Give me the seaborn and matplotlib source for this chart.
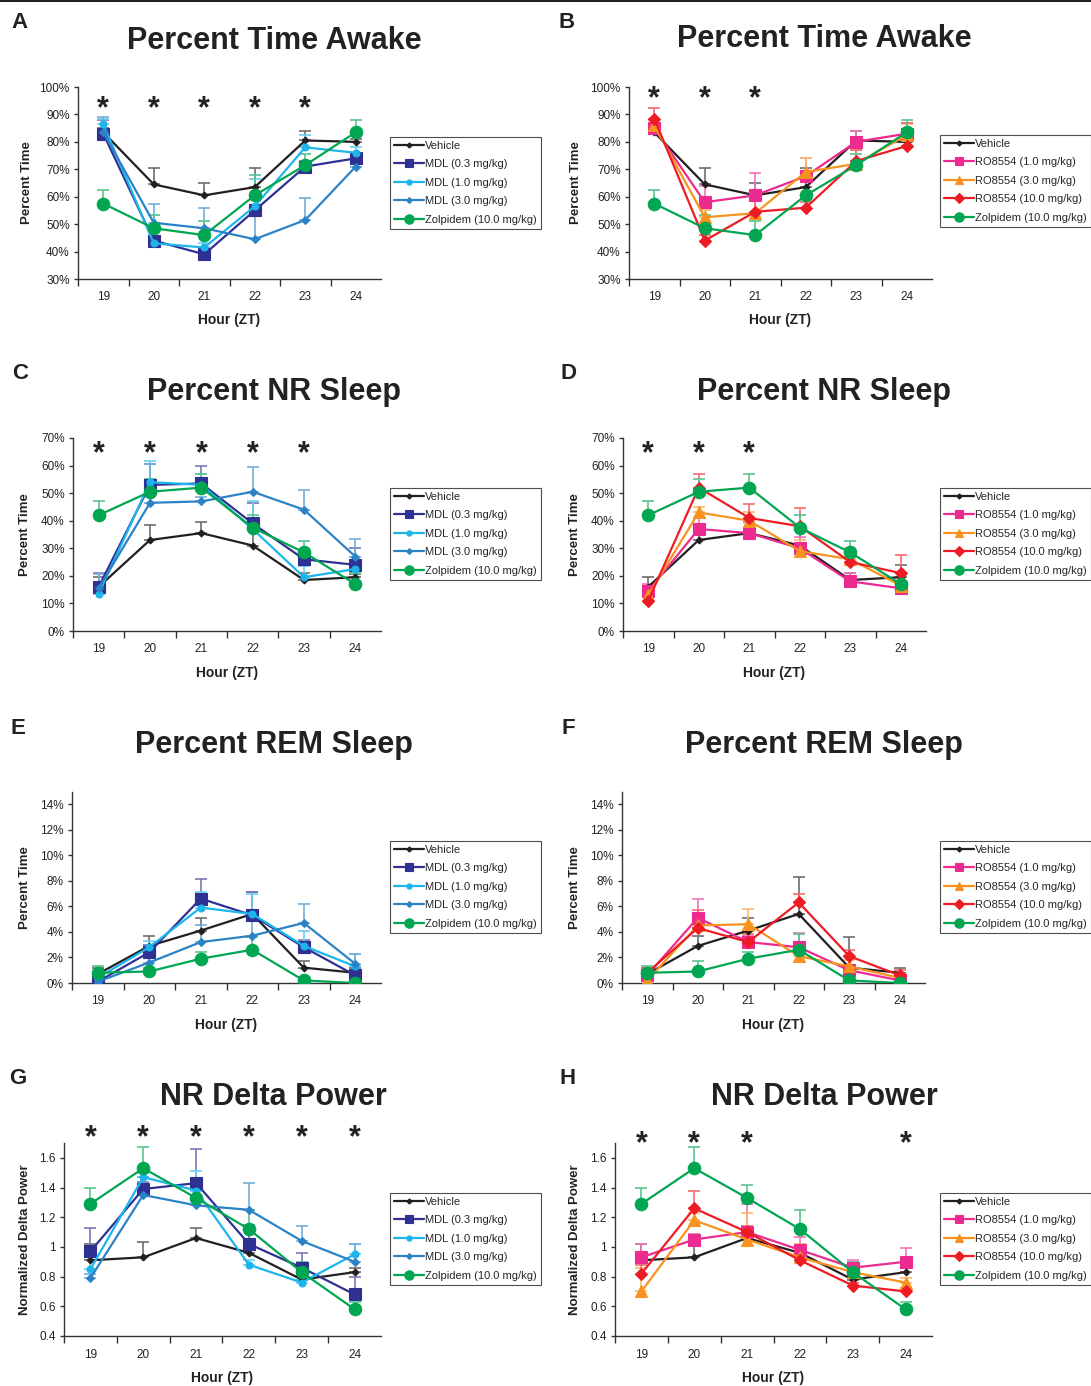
import numpy as np
import pandas as pd
import matplotlib
matplotlib.use("Agg")
import matplotlib.pyplot as plt
from matplotlib.ticker import PercentFormatter, FixedLocator
from matplotlib.lines import Line2D
from matplotlib.colors import to_rgb
import seaborn as sns

hours = [19, 20, 21, 22, 23, 24]

mdl_names = ["Vehicle", "MDL (0.3 mg/kg)", "MDL (1.0 mg/kg)", "MDL (3.0 mg/kg)", "Zolpidem (10.0 mg/kg)"]
ro_names = ["Vehicle", "RO8554 (1.0 mg/kg)", "RO8554 (3.0 mg/kg)", "RO8554 (10.0 mg/kg)", "Zolpidem (10.0 mg/kg)"]

# Percent time awake (%)
awake_a = {
    "Vehicle": [83.5, 64.5, 60.5, 63.5, 80.5, 80.0],
    "MDL (0.3 mg/kg)": [83.0, 44.0, 39.0, 55.0, 71.0, 74.0],
    "MDL (1.0 mg/kg)": [86.5, 43.0, 41.5, 56.5, 78.0, 76.0],
    "MDL (3.0 mg/kg)": [83.5, 50.5, 48.5, 44.5, 51.5, 71.0],
    "Zolpidem (10.0 mg/kg)": [57.5, 48.5, 46.0, 60.5, 71.5, 83.5],
}
awake_a_err = {
    "Vehicle": [1.5, 6.0, 4.5, 7.0, 3.5, 1.0],
    "MDL (0.3 mg/kg)": [5.0, 1.5, 1.5, 1.5, 2.0, 2.0],
    "MDL (1.0 mg/kg)": [2.0, 1.0, 1.5, 10.0, 4.5, 2.0],
    "MDL (3.0 mg/kg)": [5.5, 7.0, 7.5, 8.5, 8.0, 1.0],
    "Zolpidem (10.0 mg/kg)": [5.0, 5.0, 5.0, 7.5, 4.0, 4.5],
}
awake_b = {
    "Vehicle": [83.5, 64.5, 60.5, 63.5, 80.5, 80.0],
    "RO8554 (1.0 mg/kg)": [85.0, 58.0, 60.5, 67.5, 80.0, 83.0],
    "RO8554 (3.0 mg/kg)": [86.0, 52.5, 54.0, 69.0, 72.0, 82.5],
    "RO8554 (10.0 mg/kg)": [88.5, 44.0, 54.5, 56.0, 73.0, 78.5],
    "Zolpidem (10.0 mg/kg)": [57.5, 48.5, 46.0, 60.5, 71.5, 83.5],
}
awake_b_err = {
    "Vehicle": [1.5, 6.0, 4.5, 7.0, 3.5, 1.0],
    "RO8554 (1.0 mg/kg)": [2.0, 6.0, 8.0, 6.5, 4.0, 4.0],
    "RO8554 (3.0 mg/kg)": [2.0, 2.5, 5.0, 5.0, 5.0, 4.0],
    "RO8554 (10.0 mg/kg)": [4.0, 2.0, 6.0, 2.0, 4.0, 8.5],
    "Zolpidem (10.0 mg/kg)": [5.0, 5.0, 5.0, 7.5, 4.0, 4.5],
}

# Percent NR sleep (%)
nrem_c = {
    "Vehicle": [16.0, 33.0, 35.5, 31.0, 18.5, 19.5],
    "MDL (0.3 mg/kg)": [16.0, 53.0, 53.5, 39.0, 26.0, 24.0],
    "MDL (1.0 mg/kg)": [13.5, 54.0, 53.0, 37.0, 19.5, 22.5],
    "MDL (3.0 mg/kg)": [15.5, 46.5, 47.0, 50.5, 44.0, 27.0],
    "Zolpidem (10.0 mg/kg)": [42.0, 50.5, 52.0, 37.5, 28.5, 17.0],
}
nrem_c_err = {
    "Vehicle": [3.5, 5.5, 4.0, 6.0, 2.5, 1.0],
    "MDL (0.3 mg/kg)": [5.0, 7.5, 6.5, 7.5, 2.0, 6.0],
    "MDL (1.0 mg/kg)": [1.5, 7.5, 4.0, 10.0, 4.0, 1.5],
    "MDL (3.0 mg/kg)": [5.0, 14.0, 1.5, 9.0, 7.0, 6.5],
    "Zolpidem (10.0 mg/kg)": [5.0, 4.5, 5.0, 4.5, 4.0, 4.0],
}
nrem_d = {
    "Vehicle": [16.0, 33.0, 35.5, 31.0, 18.5, 19.5],
    "RO8554 (1.0 mg/kg)": [14.5, 37.0, 35.5, 30.0, 18.0, 15.5],
    "RO8554 (3.0 mg/kg)": [13.0, 43.0, 40.0, 29.0, 26.0, 16.5],
    "RO8554 (10.0 mg/kg)": [11.0, 52.0, 41.0, 38.0, 25.0, 21.0],
    "Zolpidem (10.0 mg/kg)": [42.0, 50.5, 52.0, 37.5, 28.5, 17.0],
}
nrem_d_err = {
    "Vehicle": [3.5, 5.5, 4.0, 6.0, 2.5, 4.5],
    "RO8554 (1.0 mg/kg)": [2.5, 4.0, 2.0, 4.0, 3.0, 1.5],
    "RO8554 (3.0 mg/kg)": [3.5, 2.0, 3.0, 4.0, 4.0, 1.5],
    "RO8554 (10.0 mg/kg)": [1.5, 5.0, 5.0, 6.5, 2.0, 6.5],
    "Zolpidem (10.0 mg/kg)": [5.0, 4.5, 5.0, 4.5, 4.0, 4.0],
}

# Percent REM sleep (%)
rem_e = {
    "Vehicle": [0.7, 2.9, 4.1, 5.4, 1.2, 0.8],
    "MDL (0.3 mg/kg)": [0.1, 2.4, 6.6, 5.3, 2.8, 0.6],
    "MDL (1.0 mg/kg)": [0.4, 2.8, 5.9, 5.4, 2.9, 1.3],
    "MDL (3.0 mg/kg)": [0.1, 1.6, 3.2, 3.7, 4.7, 1.5],
    "Zolpidem (10.0 mg/kg)": [0.8, 0.9, 1.9, 2.6, 0.2, 0.0],
}
rem_e_err = {
    "Vehicle": [0.5, 0.8, 1.0, 1.7, 0.5, 0.4],
    "MDL (0.3 mg/kg)": [0.3, 0.6, 1.5, 1.8, 0.6, 0.4],
    "MDL (1.0 mg/kg)": [0.4, 0.5, 1.2, 1.6, 1.2, 1.0],
    "MDL (3.0 mg/kg)": [0.3, 0.4, 1.3, 1.5, 1.5, 0.8],
    "Zolpidem (10.0 mg/kg)": [0.5, 0.3, 0.5, 1.0, 0.2, 0.1],
}
rem_f = {
    "Vehicle": [0.7, 2.9, 4.1, 5.4, 1.2, 0.8],
    "RO8554 (1.0 mg/kg)": [0.6, 5.1, 3.2, 2.8, 1.0, 0.2],
    "RO8554 (3.0 mg/kg)": [0.2, 4.5, 4.6, 2.1, 1.3, 0.4],
    "RO8554 (10.0 mg/kg)": [0.8, 4.3, 3.2, 6.3, 2.1, 0.6],
    "Zolpidem (10.0 mg/kg)": [0.8, 0.9, 1.9, 2.6, 0.2, 0.0],
}
rem_f_err = {
    "Vehicle": [0.5, 0.8, 1.0, 2.9, 2.4, 0.4],
    "RO8554 (1.0 mg/kg)": [0.5, 1.5, 0.5, 1.1, 0.3, 0.2],
    "RO8554 (3.0 mg/kg)": [0.3, 0.7, 1.2, 0.5, 0.5, 0.2],
    "RO8554 (10.0 mg/kg)": [0.4, 1.4, 0.6, 0.7, 0.5, 0.4],
    "Zolpidem (10.0 mg/kg)": [0.5, 0.8, 0.5, 1.2, 0.2, 0.1],
}

# NR delta power (normalized)
delta_g = {
    "Vehicle": [0.91, 0.93, 1.06, 0.96, 0.78, 0.83],
    "MDL (0.3 mg/kg)": [0.97, 1.39, 1.43, 1.02, 0.86, 0.68],
    "MDL (1.0 mg/kg)": [0.85, 1.47, 1.38, 0.88, 0.76, 0.95],
    "MDL (3.0 mg/kg)": [0.79, 1.35, 1.28, 1.25, 1.04, 0.90],
    "Zolpidem (10.0 mg/kg)": [1.29, 1.53, 1.33, 1.12, 0.83, 0.58],
}
delta_g_err = {
    "Vehicle": [0.11, 0.10, 0.07, 0.04, 0.03, 0.03],
    "MDL (0.3 mg/kg)": [0.16, 0.05, 0.23, 0.13, 0.10, 0.12],
    "MDL (1.0 mg/kg)": [0.08, 0.03, 0.13, 0.03, 0.02, 0.07],
    "MDL (3.0 mg/kg)": [0.03, 0.12, 0.03, 0.18, 0.10, 0.12],
    "Zolpidem (10.0 mg/kg)": [0.11, 0.14, 0.09, 0.13, 0.07, 0.05],
}
delta_h = {
    "Vehicle": [0.91, 0.93, 1.06, 0.96, 0.78, 0.83],
    "RO8554 (1.0 mg/kg)": [0.93, 1.05, 1.10, 0.98, 0.86, 0.90],
    "RO8554 (3.0 mg/kg)": [0.70, 1.18, 1.05, 0.93, 0.83, 0.76],
    "RO8554 (10.0 mg/kg)": [0.82, 1.26, 1.10, 0.91, 0.74, 0.70],
    "Zolpidem (10.0 mg/kg)": [1.29, 1.53, 1.33, 1.12, 0.83, 0.58],
}
delta_h_err = {
    "Vehicle": [0.11, 0.10, 0.07, 0.04, 0.03, 0.03],
    "RO8554 (1.0 mg/kg)": [0.09, 0.04, 0.19, 0.09, 0.05, 0.09],
    "RO8554 (3.0 mg/kg)": [0.16, 0.05, 0.18, 0.09, 0.04, 0.03],
    "RO8554 (10.0 mg/kg)": [0.06, 0.12, 0.04, 0.03, 0.02, 0.02],
    "Zolpidem (10.0 mg/kg)": [0.11, 0.14, 0.09, 0.13, 0.07, 0.05],
}

# hours with a significance star
stars_a = [19, 20, 21, 22, 23]
stars_b = [19, 20, 21]
stars_c = [19, 20, 21, 22, 23]
stars_d = [19, 20, 21]
stars_g = [19, 20, 21, 22, 23, 24]
stars_h = [19, 20, 21, 24]

styles = {
    "Vehicle": dict(color="#231f20", marker="D", ms=3.5),
    "MDL (0.3 mg/kg)": dict(color="#2e3192", marker="s", ms=8),
    "MDL (1.0 mg/kg)": dict(color="#1cb5ec", marker="o", ms=5),
    "MDL (3.0 mg/kg)": dict(color="#2b83c6", marker="D", ms=4),
    "Zolpidem (10.0 mg/kg)": dict(color="#00a651", marker="o", ms=9),
    "RO8554 (1.0 mg/kg)": dict(color="#ec2a90", marker="s", ms=8),
    "RO8554 (3.0 mg/kg)": dict(color="#f7931e", marker="^", ms=8.5),
    "RO8554 (10.0 mg/kg)": dict(color="#ed1c24", marker="D", ms=6.5),
}

sns.set_style("ticks")
plt.rcParams["font.family"] = ["Liberation Sans", "DejaVu Sans"]

W, H = 1091, 1386
fig = plt.figure(figsize=(W / 100, H / 100), dpi=100)


def light(c, f=0.35):
    r, g, b = to_rgb(c)
    return (r + (1 - r) * f, g + (1 - g) * f, b + (1 - b) * f)


def panel(box, means, errs, names, ylim, yticks, pct, stars, star_y,
          ylabel, ylabel_x, xlabel_y, leg_xy, letter, letter_xy, title, title_xy):
    left, top, right, bottom = box
    ax = fig.add_axes([left / W, 1 - bottom / H, (right - left) / W, (bottom - top) / H])
    for name in names:
        st = styles[name]
        ax.errorbar(hours, means[name], yerr=[np.zeros(6), errs[name]], fmt="none",
                    ecolor=light(st["color"]), elinewidth=1.2, capsize=4, capthick=1.2, zorder=1)
    for name in names:
        st = styles[name]
        df = pd.DataFrame({"hour": hours, "value": means[name]})
        sns.lineplot(data=df, x="hour", y="value", ax=ax, color=st["color"], marker=st["marker"],
                     markersize=st["ms"], markeredgecolor=st["color"], markeredgewidth=0.8,
                     linewidth=1.6, label=name, errorbar=None, zorder=3)
    ax.set_xlim(18.5, 24.5)
    ax.set_ylim(*ylim)
    ax.set_xticks(hours)
    ax.set_xticklabels([str(h) for h in hours])
    ax.xaxis.set_minor_locator(FixedLocator([18.5, 19.5, 20.5, 21.5, 22.5, 23.5]))
    ax.tick_params(axis="x", which="major", length=0, pad=9, labelsize=8.5, labelcolor="#222222")
    ax.tick_params(axis="x", which="minor", length=5, width=1, color="#333333", direction="out")
    ax.set_yticks(yticks)
    if pct:
        ax.yaxis.set_major_formatter(PercentFormatter(decimals=0))
    else:
        ax.set_yticklabels([f"{t:g}" for t in yticks])
    ax.tick_params(axis="y", length=3, width=1, color="#333333", pad=3, labelsize=8.5, labelcolor="#222222")
    sns.despine(ax=ax)
    for s in ["left", "bottom"]:
        ax.spines[s].set_color("#333333")
        ax.spines[s].set_linewidth(1)
    hgt = bottom - top
    wid = right - left
    ax.set_ylabel(ylabel, fontsize=9.5, fontweight="bold", color="#222222")
    ax.yaxis.set_label_coords((ylabel_x + 6 - left) / wid, 0.5)
    ax.set_xlabel("Hour (ZT)", fontsize=10, fontweight="bold", color="#222222")
    ax.xaxis.set_label_coords(0.5, -(xlabel_y - 6 - bottom) / hgt)
    for h in stars:
        ax.text(h, star_y, "*", ha="center", va="center", fontsize=22, fontweight="bold",
                color="#222222", clip_on=False)
    handles, labels = ax.get_legend_handles_labels()
    leg = ax.legend(handles, labels, loc="upper left", bbox_to_anchor=(leg_xy[0] / W, 1 - leg_xy[1] / H),
                    bbox_transform=fig.transFigure, fontsize=8.0, frameon=True, fancybox=False,
                    edgecolor="#222222", borderpad=0.35, labelspacing=0.76, handlelength=2.7,
                    handletextpad=0.1, borderaxespad=0, markerscale=0.75)
    leg.get_frame().set_linewidth(0.8)
    fig.text(letter_xy[0] / W, 1 - letter_xy[1] / H, letter, fontsize=16, fontweight="bold",
             ha="center", va="center", color="#222222")
    fig.text(title_xy[0] / W, 1 - title_xy[1] / H, title, fontsize=22, fontweight="bold",
             ha="center", va="center", color="#222222")
    return ax


pct_awake = [30, 40, 50, 60, 70, 80, 90, 100]
pct_nrem = [0, 10, 20, 30, 40, 50, 60, 70]
pct_rem = [0, 2, 4, 6, 8, 10, 12, 14]
delta_ticks = [0.4, 0.6, 0.8, 1.0, 1.2, 1.4, 1.6]

panel((78, 87, 381, 279), awake_a, awake_a_err, mdl_names, (30, 100), pct_awake, True,
      stars_a, 92.0, "Percent Time", 27, 319, (390, 137), "A", (19, 22), "Percent Time Awake", (274, 41))
panel((629, 87, 932, 279), awake_b, awake_b_err, ro_names, (30, 100), pct_awake, True,
      stars_b, 95.5, "Percent Time", 576, 319, (940, 135), "B", (567, 22), "Percent Time Awake", (824, 39))
panel((73, 438, 381, 631), nrem_c, nrem_c_err, mdl_names, (0, 70), pct_nrem, True,
      stars_c, 64.0, "Percent Time", 25, 672, (390, 488), "C", (20, 374), "Percent NR Sleep", (274, 392))
panel((623, 438, 926, 631), nrem_d, nrem_d_err, ro_names, (0, 70), pct_nrem, True,
      stars_d, 64.0, "Percent Time", 575, 672, (940, 488), "D", (568, 374), "Percent NR Sleep", (824, 392))
panel((72, 792, 381, 983), rem_e, rem_e_err, mdl_names, (0, 14.94), pct_rem, True,
      [], 0, "Percent Time", 25, 1024, (390, 841), "E", (18, 728), "Percent REM Sleep", (274, 745))
panel((622, 792, 925, 983), rem_f, rem_f_err, ro_names, (0, 14.94), pct_rem, True,
      [], 0, "Percent Time", 575, 1024, (940, 841), "F", (568, 728), "Percent REM Sleep", (824, 745))
panel((64, 1143, 381, 1336), delta_g, delta_g_err, mdl_names, (0.4, 1.70), delta_ticks, False,
      stars_g, 1.735, "Normalized Delta Power", 25, 1377, (390, 1193), "G", (18, 1078), "NR Delta Power", (273, 1097))
panel((615, 1143, 932, 1336), delta_h, delta_h_err, ro_names, (0.4, 1.70), delta_ticks, False,
      stars_h, 1.69, "Normalized Delta Power", 575, 1377, (940, 1193), "H", (568, 1078), "NR Delta Power", (824, 1097))

fig.add_artist(Line2D([0, 1], [1 - 1 / H, 1 - 1 / H], color="#222222", lw=1.5, transform=fig.transFigure))

fig.savefig("out.png", dpi=100)
